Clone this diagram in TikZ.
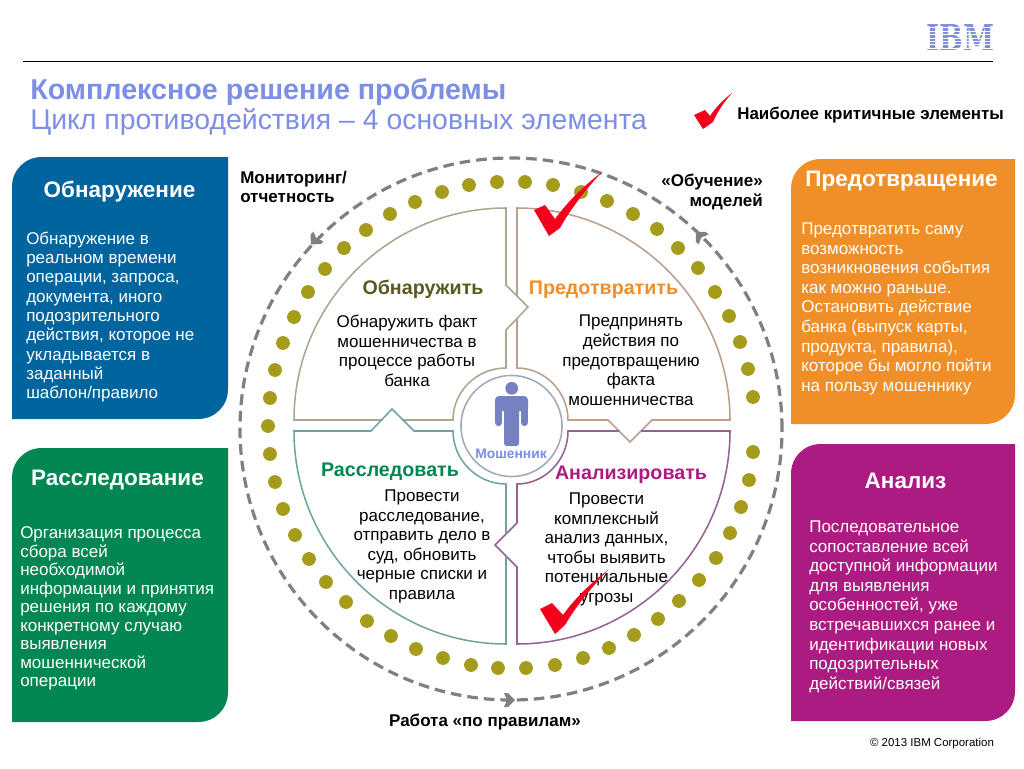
\documentclass[tikz,border=0pt]{standalone}
\usepackage{fontspec}
\setmainfont{Liberation Sans}
\newfontfamily\logofont{DejaVu Serif}
\definecolor{cblue}{HTML}{00649E}
\definecolor{cgreen}{HTML}{038752}
\definecolor{corange}{HTML}{F08F28}
\definecolor{cpurple}{HTML}{AC1B81}
\definecolor{cdot}{HTML}{A59C1C}
\definecolor{cdash}{HTML}{808080}
\definecolor{ctitle}{HTML}{7C8EE6}
\definecolor{cperson}{HTML}{7581C0}
\definecolor{clogo}{HTML}{7F8FD8}
\definecolor{sTL}{HTML}{A8A890}
\definecolor{sTR}{HTML}{BB9E8C}
\definecolor{sBL}{HTML}{6FA5A0}
\definecolor{sBR}{HTML}{96608F}
\definecolor{cdet}{HTML}{5A5A1E}
\definecolor{ccheck}{HTML}{F4001C}
\tikzset{
  sector/.style={line width=1.15pt,line join=miter},
  panelhead/.style={text=white,font=\fontsize{16.85}{19}\selectfont\bfseries,inner sep=0pt,anchor=center},
  panelbody/.style={text=white,font=\fontsize{12.75}{14.7}\selectfont,align=left,anchor=north west,inner sep=0pt},
  sechead/.style={font=\fontsize{14.75}{16}\selectfont\bfseries,inner sep=0pt,anchor=center},
  secbody/.style={font=\fontsize{12.75}{14.7}\selectfont,align=center,anchor=north,inner sep=0pt},
  outerlabel/.style={font=\fontsize{12.75}{14.5}\selectfont\bfseries,inner sep=0pt},
  checkmark/.style={fill=ccheck,draw=none}
}
\begin{document}
\begin{tikzpicture}[x=0.75pt,y=-0.75pt]
\useasboundingbox (0,0) rectangle (1024,768);
\fill[white] (0,0) rectangle (1024,768);
% header
\draw[line width=0.75pt,black] (23,61) -- (993,61);
\node[inner sep=0pt,anchor=west,text=ctitle,font=\fontsize{21.5}{24}\selectfont\bfseries] (title1) at (30,91.5) {Комплексное решение проблемы};
\node[inner sep=0pt,anchor=west,text=ctitle,font=\fontsize{21.3}{24}\selectfont] (title2) at (30,122) {Цикл противодействия – 4 основных элемента};
\node[inner sep=0pt,text=clogo,font=\logofont\bfseries\fontsize{26.7}{27}\selectfont,xscale=0.79] (ibm) at (960.5,38) {IBM};
\foreach \yy in {27.3,30.7,34.1,37.5,40.9,44.3,47.7}{\fill[white] (920,\yy) rectangle (1000,\yy+1.1);}
% legend
\fill[checkmark] (694,115) -- (705,110) -- (710,116) .. controls (716,107) and (724,99) .. (732,93) .. controls (723,103) and (717,113) .. (713,122) -- (703,129) -- cycle;
\node[inner sep=0pt,anchor=west,font=\fontsize{12.7}{14}\selectfont\bfseries] (legend) at (737,115.5) {Наиболее критичные элементы};
% panels
\fill[cblue] (12,419) -- (12,187) .. controls (12,170) and (25,157) .. (42,157) -- (228,157) -- (228,389) .. controls (228,406) and (215,419) .. (198,419) -- cycle;
\fill[cgreen] (12,722) -- (12,478) .. controls (12,461) and (25,448) .. (42,448) -- (228,448) -- (228,692) .. controls (228,709) and (215,722) .. (198,722) -- cycle;
\fill[corange] (791,424) -- (791,189) .. controls (791,172) and (804,159) .. (821,159) -- (1015,159) -- (1015,394) .. controls (1015,411) and (1002,424) .. (985,424) -- cycle;
\fill[cpurple] (791,721) -- (791,474) .. controls (791,457) and (804,444) .. (821,444) -- (1015,444) -- (1015,691) .. controls (1015,708) and (1002,721) .. (985,721) -- cycle;
\node[panelhead] (h1) at (119.5,191.5) {Обнаружение};
\node[panelhead] (h2) at (117.5,479.5) {Расследование};
\node[panelhead] (h3) at (901.5,181.5) {Предотвращение};
\node[panelhead] (h4) at (905.5,480.5) {Анализ};
\node[panelbody,font=\fontsize{12.75}{14.5}\selectfont] (b1) at (26,231.5) {Обнаружение в\\реальном времени\\операции, запроса,\\документа, иного\\подозрительного\\действия, которое не\\укладывается в\\заданный\\шаблон/правило};
\node[panelbody,font=\fontsize{12.75}{13.9}\selectfont] (b2) at (20,526.5) {Организация процесса\\сбора всей\\необходимой\\информации и принятия\\решения по каждому\\конкретному случаю\\выявления\\мошеннической\\операции};
\node[panelbody] (b3) at (801,222.5) {Предотвратить саму\\возможность\\возникновения события\\как можно раньше.\\Остановить действие\\банка (выпуск карты,\\продукта, правила),\\которое бы могло пойти\\на пользу мошеннику};
\node[panelbody] (b4) at (809,520.5) {Последовательное\\сопоставление всей\\доступной информации\\для выявления\\особенностей, уже\\встречавшихся ранее и\\идентификации новых\\подозрительных\\действий/связей};
% dashed ring
\draw[cdash,line width=2.4pt,dash pattern=on 8pt off 4.5pt] (511,429) circle[radius=203.25pt];
\foreach \ax/\ay/\aa in {509/700/0,315/240/226,700/236/135}{
  \fill[cdash,shift={(\ax,\ay)},rotate=\aa] (6,0) -- (-1,7) -- (-5,7) -- (-2,0) -- (-5,-7) -- (-1,-7) -- cycle;
}
% dots
\foreach \px/\py in {497/182,525/182,469/185,442/192,415/202,390/214,366/230,344/248,325/269,308/292,294/317,283/343,275/370,270/398,268/426,270/454,275/482,283/509,295/535,309/559,326/582,346/602,367/621,391/636,416/649,443/658,471/665,498/668,526/668,555/665,583/658,609/648,634/635,658/619,679/601,699/580,716/558,730/533,741/507,749/480,753/452,753/397,748/369,740/342,729/316,715/292,698/268,678/248,657/229,633/214,607/201,581/192,553/185}{
  \fill[cdot] (\px,\py) circle[radius=5.2pt];
}
% sectors
\draw[sector,sTL] (403,420) -- (453,420) .. controls (453,391) and (477,368) .. (506,368) -- (506,330) -- (528,307) -- (506,285) -- (506,208) .. controls (389,208) and (294,303) .. (294,420) -- (381,420);
\draw[sector,sTR] (517,318) -- (517,368) .. controls (545,368) and (568,392) .. (568,420) -- (608,420) -- (630,442) -- (652,420) -- (730,420) .. controls (730,303) and (634,208) .. (517,208) -- (517,296);
\draw[sector,sBR] (641,431) -- (730,431) .. controls (730,549) and (634,644) .. (517,644) -- (517,567) -- (495,545) -- (517,523) -- (517,484) .. controls (545,484) and (568,460) .. (568,431) -- (619,431);
\draw[sector,sBL] (506,556) -- (506,644) .. controls (389,644) and (294,548) .. (294,431) -- (371,431) -- (392,409) -- (414,431) -- (453,431) .. controls (453,460) and (477,484) .. (506,484) -- (506,534);
% centre
\draw[line width=1.15pt,color={rgb,255:red,160;green,168;blue,184}] (511.5,426) circle[radius=37.9pt];
\fill[cperson] (511.7,388.3) circle[radius=4.8pt];
\fill[cperson,rounded corners=3pt] (495,411) -- (495,396) -- (528,396) -- (528,411) -- cycle;
\fill[cperson,rounded corners=2pt] (504,405) rectangle (519,446);
\draw[cperson,line width=5.4pt,line cap=round] (498.6,408) -- (498.6,422.5);
\draw[cperson,line width=5.4pt,line cap=round] (524.4,408) -- (524.4,422.5);
\node[inner sep=0pt,text=ctitle,font=\fontsize{10.4}{12}\selectfont\bfseries] (person) at (511,453.5) {Мошенник};
% sector text
\node[sechead,text=cdet] (s1) at (423,289.5) {Обнаружить};
\node[sechead,text=corange] (s2) at (603.5,289.5) {Предотвратить};
\node[sechead,text=cgreen] (s3) at (390,471.5) {Расследовать};
\node[sechead,text=cpurple] (s4) at (631,474.5) {Анализировать};
\node[secbody] (t1) at (407,315) {Обнаружить факт\\мошенничества в\\процессе работы\\банка};
\node[secbody] (t2) at (631,315) {Предпринять\\действия по\\предотвращению\\факта\\мошенничества};
\node[secbody] (t3) at (422,489.5) {Провести\\расследование,\\отправить дело в\\суд, обновить\\черные списки и\\правила};
\node[secbody] (t4) at (606.5,492.5) {Провести\\комплексный\\анализ данных,\\чтобы выявить\\потенциальные\\угрозы};
% outer labels
\node[outerlabel,align=left,anchor=north west] (l1) at (240,171) {Мониторинг/\\отчетность};
\node[outerlabel,align=right,anchor=north east] (l2) at (763,174) {«Обучение»\\моделей};
\node[outerlabel] (l3) at (485,722.5) {Работа «по правилам»};
\node[inner sep=0pt,font=\fontsize{8.6}{10}\selectfont] (copy) at (932,744) {© 2013 IBM Corporation};
% big checks
\fill[checkmark] (534,210) -- (545,205) -- (555,219) .. controls (568,201) and (585,185) .. (602,172) .. controls (585,190) and (570,210) .. (560,228) -- (549,236) -- cycle;
\fill[checkmark] (540,609) -- (552,603) -- (563,615) .. controls (575,598) and (592,582) .. (608,570) .. controls (592,587) and (576,606) .. (565,625) -- (555,634) -- cycle;
\end{tikzpicture}
\end{document}
